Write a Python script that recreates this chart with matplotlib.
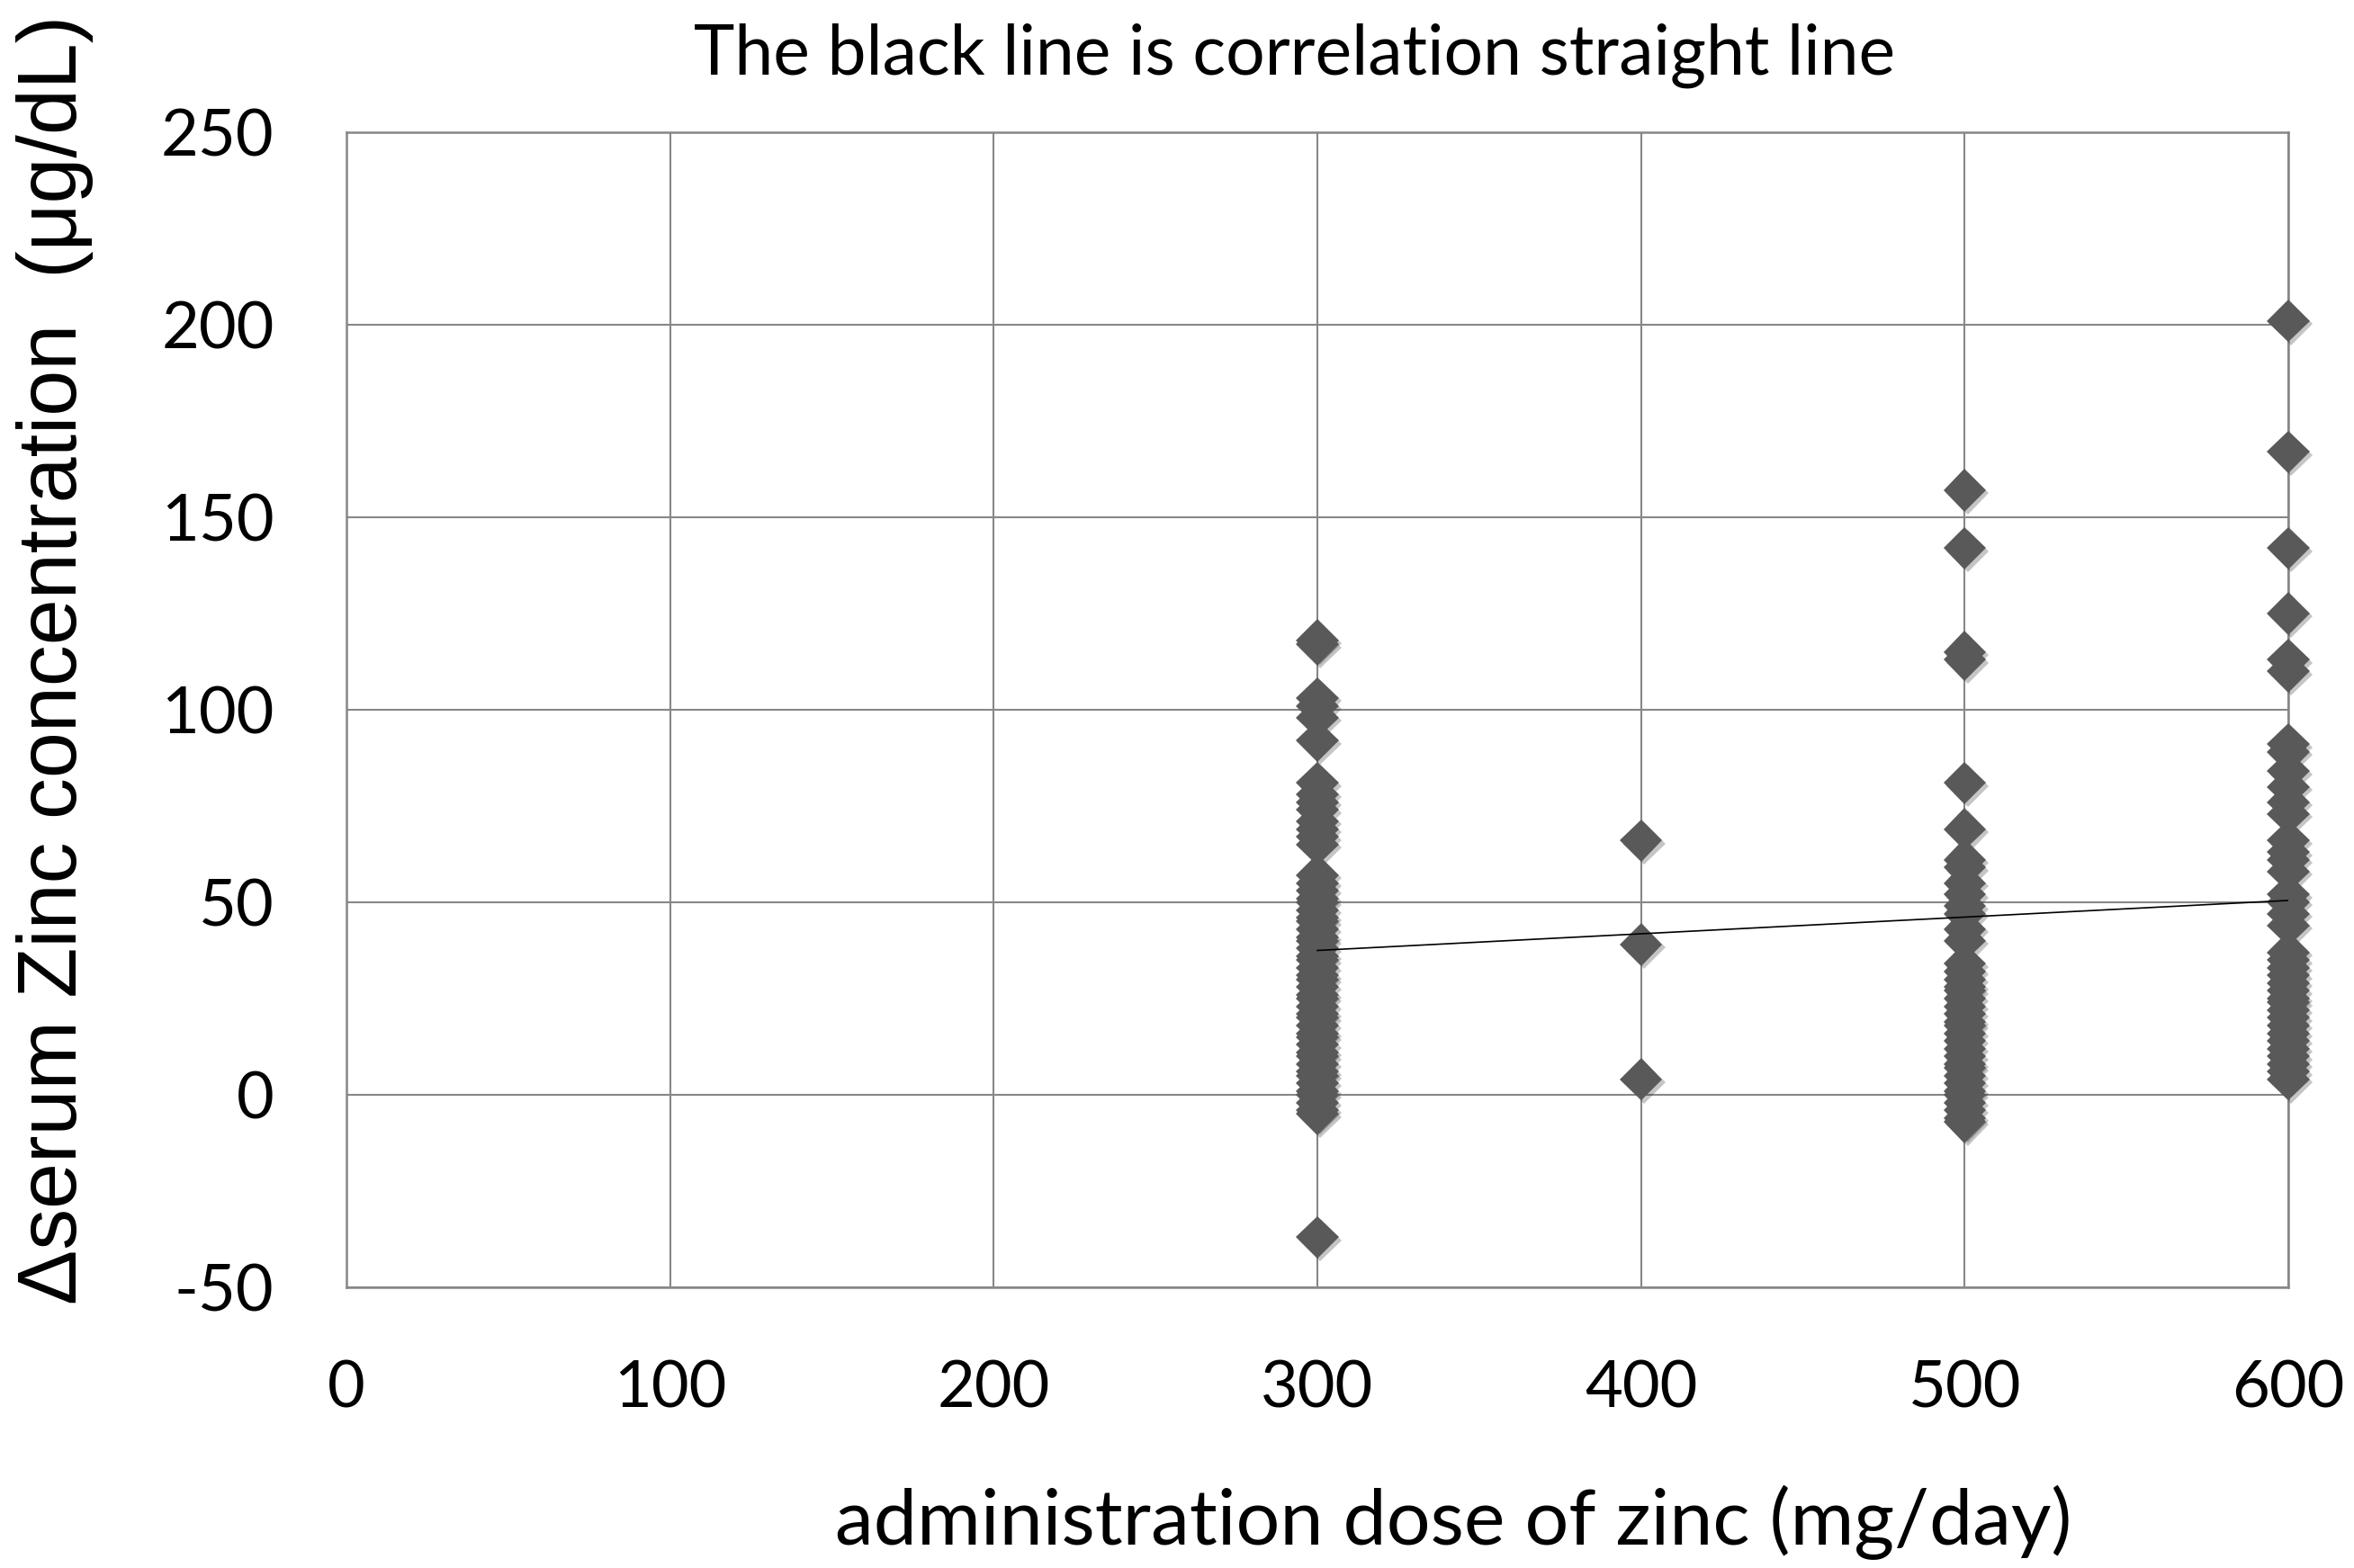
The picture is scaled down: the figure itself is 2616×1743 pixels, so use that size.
import matplotlib
matplotlib.use("Agg")
import matplotlib.pyplot as plt
import matplotlib.patheffects as pe
import numpy as np

plt.rcParams["axes.unicode_minus"] = False

# administration dose (mg/day) -> change of serum zinc (ug/dL)
dose_300 = [118, 117, 103, 101, 98, 92, 81, 78, 76, 74, 71, 69, 67, 65,
            57, 55, 53, 51, 50, 48, 46, 45, 43, 41, 40, 38, 36, 35, 33, 31,
            30, 28, 26, 25, 23, 21, 20, 18, 16, 15, 13, 11, 10, 8, 6, 5,
            3, 1, 0, -2, -4, -5, -37]
dose_400 = [66, 39, 4]
dose_500 = [157, 142, 115, 113, 81, 69, 61, 59, 55, 52, 49, 47, 43, 40,
            34, 32, 30, 28, 27, 25, 23, 21, 19, 18, 16, 14, 12, 10, 8, 7,
            5, 3, 1, 0, -2, -4, -6, -7]
dose_600 = [201, 167, 142, 125, 113, 110, 91, 89, 84, 80, 76, 73, 66, 63,
            61, 58, 52, 50, 47, 44, 37, 35, 33, 31, 29, 27, 25, 24, 22, 20,
            18, 16, 14, 12, 10, 8, 6, 4]
doses = [300, 400, 500, 600]

# correlation straight line
fit_slope = 0.0433
fit_intercept = 24.5

x_ticks = [0, 100, 200, 300, 400, 500, 600]
y_ticks = [-50, 0, 50, 100, 150, 200, 250]

GRID = "#878787"
MARK = "#595959"
TICK_FONT = "Lato"

fig = plt.figure(figsize=(13.08, 8.715), dpi=200, facecolor="white")
ax = fig.add_axes([0.1472, 0.1790, 0.8249, 0.7367])

groups = [dose_300, dose_400, dose_500, dose_600]
xs = np.concatenate([[d] * len(g) for d, g in zip(doses, groups)])
ys = np.concatenate(groups)

ax.plot(xs, ys, linestyle="none", marker="D", markersize=12,
        markerfacecolor=MARK, markeredgewidth=0, zorder=3, clip_on=False,
        path_effects=[pe.SimplePatchShadow(offset=(1.2, -1.2), alpha=0.25),
                      pe.Normal()])

fx = np.array([min(doses), max(doses)])
ax.plot(fx, fit_slope * fx + fit_intercept, color="black", linewidth=0.6, zorder=4)

ax.set_xlim(0, 600)
ax.set_ylim(-50, 250)
ax.set_xticks(x_ticks)
ax.set_yticks(y_ticks)
ax.grid(True, color=GRID, linewidth=0.75, zorder=0)
ax.set_axisbelow(True)
for sp in ax.spines.values():
    sp.set_color(GRID)
    sp.set_linewidth(0.9)

ax.tick_params(length=0, pad=29, labelsize=26)
for lab in ax.get_xticklabels() + ax.get_yticklabels():
    lab.set_fontfamily(TICK_FONT)

fig.text(0.55, 0.9524, "The black line is correlation straight line",
         ha="center", va="baseline", fontsize=27.7, family=TICK_FONT)
fig.text(0.6175, 0.0149, "administration dose of zinc (mg/day)",
         ha="center", va="baseline", fontsize=31, family=TICK_FONT)
fig.text(0.0235, 0.579, "\u0394serum Zinc concentration  (\u03bcg/dL)",
         ha="center", va="center", rotation=90, fontsize=33,
         family=["Liberation Sans", "DejaVu Sans"])

fig.savefig("out.png", dpi=200, facecolor="white")
